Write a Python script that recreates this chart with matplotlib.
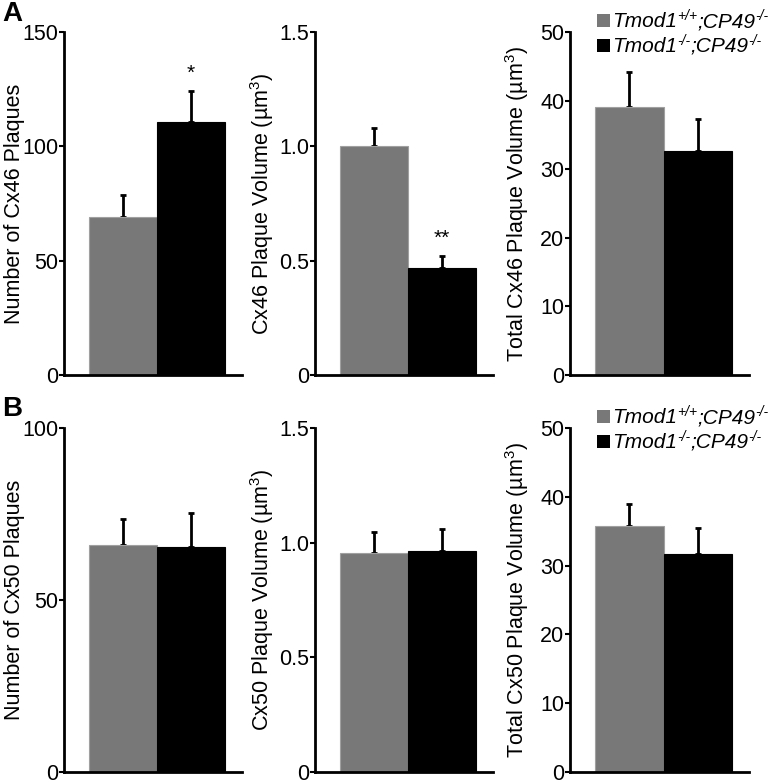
import matplotlib
matplotlib.use("Agg")
import matplotlib.pyplot as plt
from matplotlib.patches import Rectangle

plt.rcParams['font.family'] = ['Liberation Sans', 'DejaVu Sans']
plt.rcParams['mathtext.fontset'] = 'custom'
plt.rcParams['mathtext.rm'] = 'Liberation Sans'
plt.rcParams['mathtext.it'] = 'Liberation Sans:italic'

colors = ['#787878', '#000000']
legend_pieces = [[('Tmod1', False), ('+/+', True), (';CP49', False), ('-/-', True)],
                 [('Tmod1', False), ('-/-', True), (';CP49', False), ('-/-', True)]]

# Row A (Cx46)
a1_vals = [69, 110.5]; a1_err = [9.5, 13.5]
a2_vals = [1.0, 0.47]; a2_err = [0.08, 0.05]
a3_vals = [39.0, 32.6]; a3_err = [5.2, 4.7]
# Row B (Cx50)
b1_vals = [66, 65.3]; b1_err = [7.5, 10.0]
b2_vals = [0.955, 0.965]; b2_err = [0.09, 0.095]
b3_vals = [35.7, 31.7]; b3_err = [3.3, 3.8]

ylabels = ['Number of Cx46 Plaques', 'Cx46 Plaque Volume (µm$^3$)', 'Total Cx46 Plaque Volume (µm$^3$)',
           'Number of Cx50 Plaques', 'Cx50 Plaque Volume (µm$^3$)', 'Total Cx50 Plaque Volume (µm$^3$)']
yticks = [[0, 50, 100, 150], [0, 0.5, 1.0, 1.5], [0, 10, 20, 30, 40, 50],
          [0, 50, 100], [0, 0.5, 1.0, 1.5], [0, 10, 20, 30, 40, 50]]
yticklabels = [['0', '50', '100', '150'], ['0', '0.5', '1.0', '1.5'], ['0', '10', '20', '30', '40', '50'],
               ['0', '50', '100'], ['0', '0.5', '1.0', '1.5'], ['0', '10', '20', '30', '40', '50']]
stars = [['', '*'], ['', '**'], ['', ''], ['', ''], ['', ''], ['', '']]

vals = [a1_vals, a2_vals, a3_vals, b1_vals, b2_vals, b3_vals]
errs = [a1_err, a2_err, a3_err, b1_err, b2_err, b3_err]

W, H = 771, 782
fig = plt.figure(figsize=(W / 100, H / 100), dpi=100)

lefts = [64, 315, 570]
widths = [178, 178, 179]
rows = [(32, 375), (428, 772)]

axes = []
for r, (top, bot) in enumerate(rows):
    for c in range(3):
        ax = fig.add_axes([lefts[c] / W, 1 - bot / H, widths[c] / W, (bot - top) / H])
        axes.append(ax)

for i, ax in enumerate(axes):
    v = vals[i]; e = errs[i]
    c = i % 3
    x = [0, 1]
    ax.bar(x, v, width=1.0, color=colors, edgecolor=['#a0a0a0', '#000000'], linewidth=0.8, zorder=2)
    ax.errorbar(x, v, yerr=[[0, 0], e], fmt='none', ecolor='black', elinewidth=2.0,
                capsize=2.5, capthick=2.0, zorder=1)
    top = yticks[i][-1]
    for j in range(2):
        if stars[i][j]:
            ax.annotate(stars[i][j], (x[j], v[j] + e[j]), xytext=(0, 6), textcoords='offset points',
                        ha='center', va='bottom', fontsize=15)
    ax.set_xlim(-0.87, 1.75)
    ax.set_ylim(0, top)
    ax.set_yticks(yticks[i])
    ax.set_yticklabels(yticklabels[i])
    ax.set_xticks([])
    for s in ['top', 'right']:
        ax.spines[s].set_visible(False)
    for s in ['left', 'bottom']:
        ax.spines[s].set_linewidth(2.0)
    ax.tick_params(axis='y', direction='out', length=3.5, width=1.5, pad=0.5, labelsize=15.5)
    ax.set_ylabel(ylabels[i], fontsize=15.5)
    ax.yaxis.set_label_coords(-39 / widths[c], 0.5)

# manual legends (figure pixel coordinates)
renderer = fig.canvas.get_renderer()
def draw_legend(x0, baselines):
    for k, base in enumerate(baselines):
        fig.patches.append(Rectangle((x0 / W, 1 - base / H), 13 / W, 13 / H,
                                     transform=fig.transFigure, facecolor=colors[k],
                                     edgecolor='none', figure=fig))
        xpos = x0 + 15
        for txt, sup in legend_pieces[k]:
            if sup:
                t = fig.text(xpos / W, 1 - (base - 7) / H, txt, fontsize=10, style='italic',
                             va='baseline', ha='left')
            else:
                t = fig.text(xpos / W, 1 - base / H, txt, fontsize=15, style='italic',
                             va='baseline', ha='left')
            bb = t.get_window_extent(renderer)
            xpos += bb.width

draw_legend(597, [27, 52])
draw_legend(597, [423, 448])

fig.text(2 / W, 1 - 1 / H, 'A', fontsize=20, fontweight='bold', va='top', ha='left')
fig.text(2 / W, 1 - 396 / H, 'B', fontsize=20, fontweight='bold', va='top', ha='left')

fig.savefig('out.png', dpi=100)
